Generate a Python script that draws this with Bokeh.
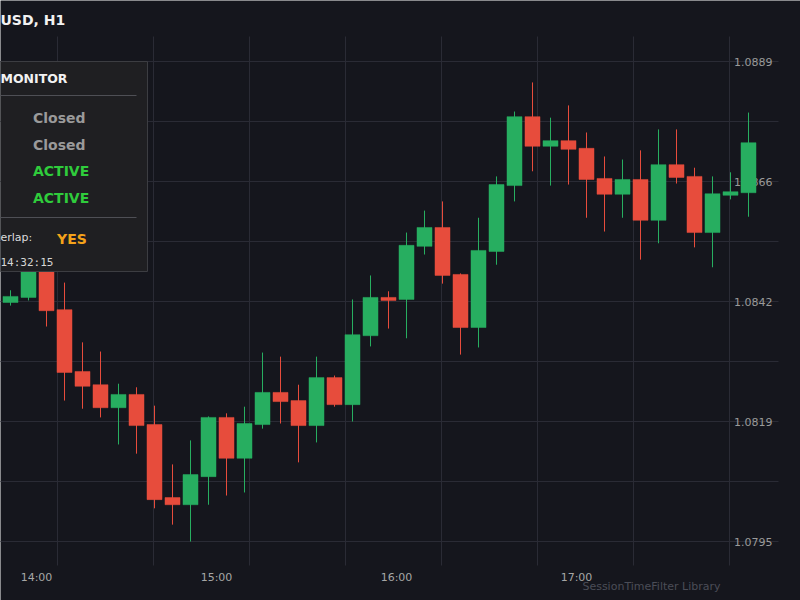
from bokeh.plotting import figure
from bokeh.models import Range1d, ColumnDataSource
from bokeh.core.properties import value
from bokeh.embed import file_html
from bokeh.resources import INLINE

# ---------------- data ----------------
opens = [1.08418, 1.08428, 1.08490, 1.08404, 1.08283, 1.08257, 1.08212, 1.08238, 1.08179, 1.08036,
         1.08022, 1.08077, 1.08193, 1.08113, 1.08179, 1.08242, 1.08226, 1.08177, 1.08271, 1.08218,
         1.08353, 1.08428, 1.08424, 1.08528, 1.08565, 1.08473, 1.08369, 1.08518, 1.08647, 1.08782,
         1.08724, 1.08735, 1.08720, 1.08661, 1.08630, 1.08659, 1.08579, 1.08688, 1.08665, 1.08555,
         1.08628, 1.08633]
highs = [1.08442, 1.08500, 1.08504, 1.08457, 1.08340, 1.08322, 1.08259, 1.08252, 1.08216, 1.08101,
         1.08148, 1.08195, 1.08201, 1.08214, 1.08320, 1.08312, 1.08257, 1.08312, 1.08275, 1.08424,
         1.08471, 1.08440, 1.08555, 1.08598, 1.08616, 1.08475, 1.08584, 1.08665, 1.08792, 1.08849,
         1.08780, 1.08804, 1.08751, 1.08704, 1.08698, 1.08716, 1.08757, 1.08757, 1.08682, 1.08665,
         1.08673, 1.08790]
lows = [1.08412, 1.08422, 1.08371, 1.08226, 1.08210, 1.08193, 1.08140, 1.08122, 1.08015, 1.07983,
        1.07950, 1.08022, 1.08040, 1.08046, 1.08171, 1.08181, 1.08105, 1.08144, 1.08214, 1.08185,
        1.08332, 1.08367, 1.08348, 1.08512, 1.08455, 1.08316, 1.08330, 1.08492, 1.08616, 1.08675,
        1.08647, 1.08649, 1.08584, 1.08557, 1.08584, 1.08502, 1.08534, 1.08651, 1.08526, 1.08487,
        1.08620, 1.08586]
closes = [1.08430, 1.08490, 1.08402, 1.08281, 1.08254, 1.08212, 1.08238, 1.08177, 1.08032, 1.08022,
          1.08081, 1.08193, 1.08113, 1.08181, 1.08242, 1.08224, 1.08177, 1.08271, 1.08218, 1.08355,
          1.08428, 1.08422, 1.08530, 1.08565, 1.08471, 1.08369, 1.08520, 1.08649, 1.08782, 1.08724,
          1.08735, 1.08718, 1.08659, 1.08630, 1.08659, 1.08579, 1.08688, 1.08663, 1.08555, 1.08631,
          1.08635, 1.08731]

time_labels = ["14:00", "15:00", "16:00", "17:00"]
time_label_index = [1, 11, 21, 31]

price_grid = [1.0795, 1.080675, 1.08185, 1.083025, 1.0842, 1.085375, 1.08655, 1.087725, 1.0889]
price_label_values = [1.0795, 1.08185, 1.0842, 1.08655, 1.0889]
price_labels = ["1.0795", "1.0819", "1.0842", "1.0866", "1.0889"]

title_text = "USD, H1"
panel_header = "MONITOR"
session_status = ["Closed", "Closed", "ACTIVE", "ACTIVE"]
overlap_label = "erlap:"
overlap_value = "YES"
clock_text = "14:32:15"
footer_text = "SessionTimeFilter Library"

# ---------------- layout helpers ----------------
BG = "#15161d"
GRID = "#2a2b35"
UP = "#27ae60"
DOWN = "#e74c3c"
FONT = value("DejaVu Sans")

PX0, PXSTEP = 10.0, 18.0                     # candle 0 centre, pixels per candle
PPU = (541 - 61) / (1.0889 - 1.0795)         # pixels per price unit


def X(px):
    return (px - PX0) / PXSTEP


def Y(py):
    return 1.0889 - (py - 61) / PPU


p = figure(width=800, height=600,
           x_range=Range1d(X(0), X(800)), y_range=Range1d(Y(600), Y(0)),
           x_axis_location=None, y_axis_location=None,
           min_border=0, toolbar_location=None, output_backend="svg",
           background_fill_color=BG, border_fill_color=BG, outline_line_color=None)
p.grid.visible = False

# grid lines
p.segment(x0=[X(-5)] * len(price_grid), x1=[X(778)] * len(price_grid),
          y0=price_grid, y1=price_grid, line_color=GRID, line_width=1)
vx = [X(57 + 96 * k) for k in range(8)]
p.segment(x0=vx, x1=vx, y0=[Y(36)] * len(vx), y1=[Y(565)] * len(vx),
          line_color=GRID, line_width=1)

# price labels (drawn under candles)
p.text(x=[X(772)] * len(price_labels), y=price_label_values, text=price_labels,
       text_align="right", text_baseline="middle", text_color="#9a9a9a",
       text_font=FONT, text_font_size=value("11px"))

# candles
idx = list(range(len(opens)))
colors = [UP if c >= o else DOWN for o, c in zip(opens, closes)]
src = ColumnDataSource(dict(
    x=idx, o=opens, h=highs, l=lows, c=closes, color=colors,
    top=[max(o, c) for o, c in zip(opens, closes)],
    bottom=[min(o, c) for o, c in zip(opens, closes)],
))
p.segment(x0="x", x1="x", y0="l", y1="h", line_color="color", line_width=1, source=src)
p.vbar(x="x", width=15 / PXSTEP, top="top", bottom="bottom",
       fill_color="color", line_color="color", line_width=0.5, source=src)

# monitor panel
p.quad(left=[X(-5)], right=[X(147)], top=[Y(61)], bottom=[Y(271)],
       fill_color="#1f1f22", line_color="#3c3d42", line_width=1)
p.segment(x0=[X(-5), X(-5)], x1=[X(136), X(136)], y0=[Y(95), Y(217)], y1=[Y(95), Y(217)],
          line_color="#4e4f55", line_width=1.2)
p.text(x=[X(0)], y=[Y(78)], text=[panel_header], text_align="left", text_baseline="middle",
       text_color="#f2f2f2", text_font=FONT, text_font_size=value("12.5px"), text_font_style="bold")
status_colors = ["#9a9a9a" if s == "Closed" else "#2fcc3c" for s in session_status]
p.text(x=[X(32.5)] * 4, y=[Y(117), Y(144), Y(170.5), Y(197)], text=session_status,
       text_align="left", text_baseline="middle", text_color=status_colors,
       text_font=FONT, text_font_size=value("14px"), text_font_style="bold")
p.text(x=[X(0)], y=[Y(237)], text=[overlap_label], text_align="left", text_baseline="middle",
       text_color="#dddddd", text_font=FONT, text_font_size=value("11px"))
p.text(x=[X(56.5)], y=[Y(238)], text=[overlap_value], text_align="left", text_baseline="middle",
       text_color="#f5a31a", text_font=FONT, text_font_size=value("14px"), text_font_style="bold")
p.text(x=[X(0)], y=[Y(262)], text=[clock_text], text_align="left", text_baseline="middle",
       text_color="#d6d6d6", text_font=value("DejaVu Sans Mono"), text_font_size=value("11px"))

# title
p.text(x=[X(0)], y=[Y(19.5)], text=[title_text], text_align="left", text_baseline="middle",
       text_color="#f2f2f2", text_font=FONT, text_font_size=value("14px"), text_font_style="bold")

# time labels
p.text(x=time_label_index, y=[Y(577)] * len(time_labels), text=time_labels, x_offset=8,
       text_align="center", text_baseline="middle", text_color="#a6a6a6",
       text_font=FONT, text_font_size=value("11px"))

# footer
p.text(x=[X(720)], y=[Y(586)], text=[footer_text], text_align="right", text_baseline="middle",
       text_color="#4b4d57", text_font=FONT, text_font_size=value("11px"))

open("out.html", "w").write(file_html(p, INLINE))
